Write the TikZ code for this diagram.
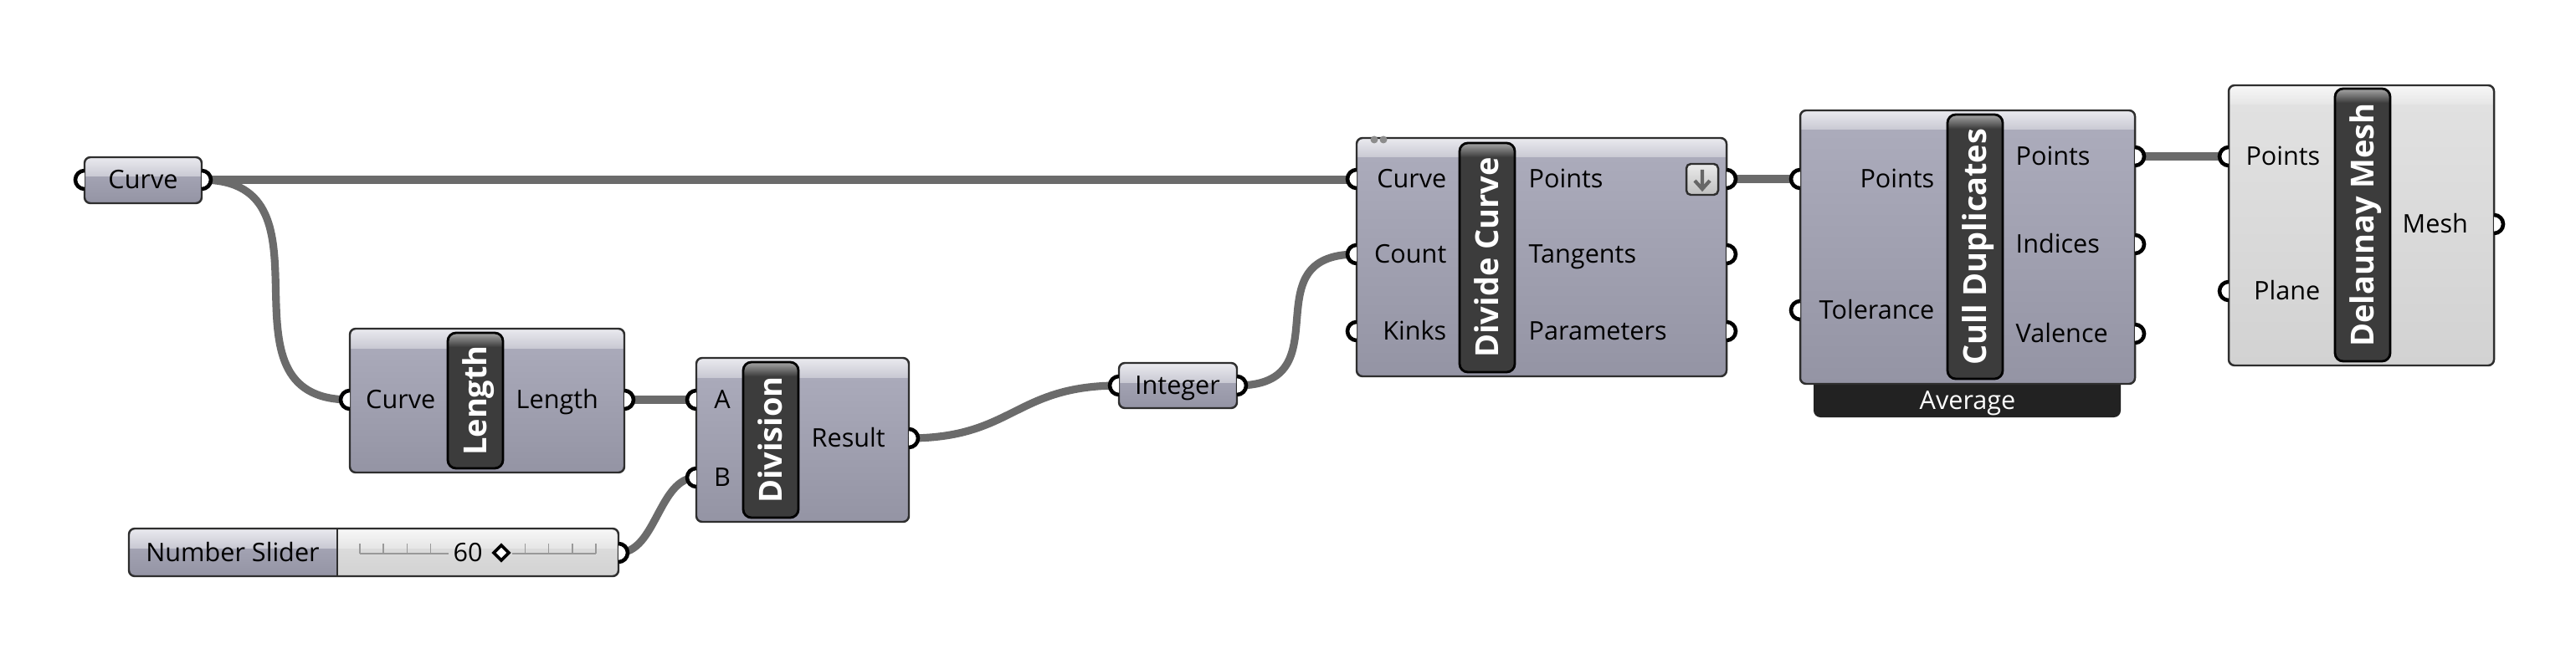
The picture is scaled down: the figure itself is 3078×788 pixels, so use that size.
\documentclass[tikz,border=0pt]{standalone}
\usepackage{fontspec}
\setmainfont{Open Sans}
\usetikzlibrary{calc}
\definecolor{wiregray}{HTML}{6B6B6B}
\definecolor{boxedge}{HTML}{2E2E2E}
\definecolor{ghbodytop}{HTML}{ADADBD}
\definecolor{ghbodybot}{HTML}{9494A4}
\definecolor{ghbandtop}{HTML}{EAEAEF}
\definecolor{ghbandbot}{HTML}{C9C9D3}
\definecolor{ltbodytop}{HTML}{E2E2E2}
\definecolor{ltbodybot}{HTML}{D2D2D2}
\definecolor{ltbandtop}{HTML}{F7F7F7}
\definecolor{ltbandbot}{HTML}{E6E6E6}
\definecolor{barfill}{HTML}{3C3C3C}
\definecolor{avgfill}{HTML}{222222}
\tikzset{
    wire/.style={draw=wiregray, line width=2.6pt},
    nub/.style={draw=black, line width=1.3pt, fill=white},
    boxline/.style={draw=boxedge, line width=0.7pt},
    ghbody/.style={top color=ghbodytop, bottom color=ghbodybot},
    ghband/.style={top color=ghbandtop, bottom color=ghbandbot},
    ltbody/.style={top color=ltbodytop, bottom color=ltbodybot},
    ltband/.style={top color=ltbandtop, bottom color=ltbandbot},
    portlabel/.style={font=\fontsize{8.7}{10}\selectfont, text=black, inner sep=0pt, text height=6.3pt, text depth=0pt},
    barlabel/.style={font=\fontsize{10.8}{12}\selectfont\bfseries, text=white, rotate=90, inner sep=0pt, text height=7.8pt, text depth=0pt}
}
\newcommand{\drawcomponent}[5]{
    \begin{scope}[shift={(#2)}]
        \begin{scope}
            \clip [rounded corners=2pt] (0,0) rectangle (#3,#4);
            \shade [#5body] (0,0) rectangle (#3,#4);
            \shade [#5band] (0,0) rectangle (#3,23);
        \end{scope}
        \draw [boxline, rounded corners=2pt] (0,0) rectangle (#3,#4);
        \coordinate (#1) at ({#3/2},{#4/2});
    \end{scope}
}
\newcommand{\drawlabelbar}[4]{
    \begin{scope}[shift={(#2)}]
        \begin{scope}
            \clip [rounded corners=2.8pt] (-33,{-#3/2}) rectangle (33,{#3/2});
            \fill [barfill] (-33,{-#3/2}) rectangle (33,{#3/2});
            \shade [top color=black!35, bottom color=barfill] (-33,{-#3/2}) rectangle (33,{-#3/2+17});
        \end{scope}
        \draw [draw=black, line width=0.8pt, rounded corners=2.8pt] (-33,{-#3/2}) rectangle (33,{#3/2});
        \node [barlabel] (#1) at (0,0) {#4};
    \end{scope}
}
\newcommand{\drawinput}[2]{
    \coordinate (#1) at (#2);
    \draw [nub] ($(#1)+(0,-11)$) arc[start angle=270, end angle=90, radius=11];
}
\newcommand{\drawoutput}[2]{
    \coordinate (#1) at (#2);
    \draw [nub] ($(#1)+(0,-11)$) arc[start angle=-90, end angle=90, radius=11];
}

\begin{document}
\begin{tikzpicture}[x=0.01cm, y=-0.01cm]
    \useasboundingbox [fill=white] (0,0) rectangle (3078,788);

    % parameters
    \drawcomponent{curve}{101,188}{140}{55}{gh};
    \node [portlabel] (curve-lbl) at (171,214) {Curve};
    \drawcomponent{int}{1337,434}{141}{54}{gh};
    \node [portlabel] (int-lbl) at (1407,460) {Integer};

    % number slider
    \begin{scope}
        \clip [rounded corners=2pt] (154,632) rectangle (739,689);
        \shade [ghbody] (154,632) rectangle (403,689);
        \shade [ghband] (154,632) rectangle (403,655);
        \shade [ltbody] (403,632) rectangle (739,689);
        \shade [ltband] (403,632) rectangle (739,655);
    \end{scope}
    \draw [boxline, rounded corners=2pt] (154,632) rectangle (739,689);
    \draw [boxline] (403,632) -- (403,689);
    \node [portlabel] (slider-lbl) at (278,660) {Number Slider};
    \draw [black!40, line width=0.5pt] (430,662) -- (536,662) (612,662) -- (712,662);
    \foreach \i in {0,1,2,3,7,8,9,10} {
        \draw [black!40, line width=0.5pt] ({430+28.2*\i},662) -- ({430+28.2*\i},650);
    }
    \node [portlabel] (slider-val) at (559,660) {60};
    \draw [draw=black, line width=1.1pt, fill=white] (590,661) -- (599,652) -- (608,661) -- (599,670) -- cycle;

    % Length
    \drawcomponent{len}{418,393}{328}{172}{gh};
    \drawlabelbar{len-bar}{568,479}{162}{Length};
    \node [portlabel, anchor=east] (len-in-lbl) at (521,477) {Curve};
    \node [portlabel, anchor=west] (len-out-lbl) at (616,477) {Length};

    % Division
    \drawcomponent{div}{832,428}{254}{196}{gh};
    \drawlabelbar{div-bar}{921,526}{186}{Division};
    \node [portlabel] (div-a-lbl) at (863,477) {A};
    \node [portlabel] (div-b-lbl) at (863,570) {B};
    \node [portlabel, anchor=west] (div-res-lbl) at (969,523) {Result};

    % Divide Curve
    \drawcomponent{dc}{1621,165}{442}{285}{gh};
    \fill [black!45] (1642,167) circle (4.5) (1653,167) circle (4.5);
    \drawlabelbar{dc-bar}{1777,308}{274}{Divide Curve};
    \node [portlabel, anchor=east] (dc-in1-lbl) at (1729,213) {Curve};
    \node [portlabel, anchor=east] (dc-in2-lbl) at (1729,303) {Count};
    \node [portlabel, anchor=east] (dc-in3-lbl) at (1729,395) {Kinks};
    \node [portlabel, anchor=west] (dc-out1-lbl) at (1826,213) {Points};
    \node [portlabel, anchor=west] (dc-out2-lbl) at (1826,303) {Tangents};
    \node [portlabel, anchor=west] (dc-out3-lbl) at (1826,395) {Parameters};
    \shade [top color=black!8, bottom color=black!25, draw=boxedge, line width=0.7pt, rounded corners=1.5pt] (2015,196) rectangle (2053,233);
    \draw [black!60, line width=1.2pt] (2034,203) -- (2034,226) (2025,216) -- (2034,226) -- (2043,216);

    % Cull Duplicates
    \fill [avgfill, rounded corners=2.3pt] (2167,440) rectangle (2534,499);
    \node [portlabel, text=white] (avg-lbl) at (2351,478) {Average};
    \drawcomponent{cd}{2151,132}{400}{327}{gh};
    \drawlabelbar{cd-bar}{2360,295}{316}{Cull Duplicates};
    \node [portlabel, anchor=east] (cd-in1-lbl) at (2312,213) {Points};
    \node [portlabel, anchor=east] (cd-in2-lbl) at (2312,370) {Tolerance};
    \node [portlabel, anchor=west] (cd-out1-lbl) at (2408,186) {Points};
    \node [portlabel, anchor=west] (cd-out2-lbl) at (2408,291) {Indices};
    \node [portlabel, anchor=west] (cd-out3-lbl) at (2408,398) {Valence};

    % Delaunay Mesh
    \drawcomponent{dm}{2663,102}{317}{335}{lt};
    \drawlabelbar{dm-bar}{2823,269}{326}{Delaunay Mesh};
    \node [portlabel, anchor=east] (dm-in1-lbl) at (2773,186) {Points};
    \node [portlabel, anchor=east] (dm-in2-lbl) at (2773,347) {Plane};
    \node [portlabel, anchor=west] (dm-out-lbl) at (2870,267) {Mesh};

    % ports
    \coordinate (curve-out) at (241,215);
    \coordinate (len-in) at (418,478);
    \coordinate (len-out) at (746,478);
    \coordinate (div-a) at (832,478);
    \coordinate (div-b) at (832,571);
    \coordinate (div-res) at (1086,524);
    \coordinate (slider-out) at (739,661);
    \coordinate (int-in) at (1337,461);
    \coordinate (int-out) at (1478,461);
    \coordinate (dc-in1) at (1621,215);
    \coordinate (dc-in2) at (1621,304);
    \coordinate (dc-out1) at (2063,214);
    \coordinate (cd-in1) at (2151,214);
    \coordinate (cd-out1) at (2551,187);
    \coordinate (dm-in1) at (2663,187);

    % wires
    \draw [wire] (curve-out) -- (dc-in1);
    \draw [wire] (curve-out) .. controls +(171,0) and +(-171,0) .. (len-in);
    \draw [wire] (len-out) -- (div-a);
    \draw [wire] (slider-out) .. controls +(45,0) and +(-45,0) .. (div-b);
    \draw [wire] (div-res) .. controls +(125,0) and +(-125,0) .. (int-in);
    \draw [wire] (int-out) .. controls +(130,0) and +(-130,0) .. (dc-in2);
    \draw [wire] (dc-out1) -- (cd-in1);
    \draw [wire] (cd-out1) -- (dm-in1);

    % nubs
    \drawinput{curve-nin}{101,215};
    \drawoutput{curve-nout}{241,215};
    \drawinput{int-nin}{1337,461};
    \drawoutput{int-nout}{1478,461};
    \drawoutput{slider-nout}{739,661};
    \drawinput{len-nin}{418,478};
    \drawoutput{len-nout}{746,478};
    \drawinput{div-na}{832,478};
    \drawinput{div-nb}{832,571};
    \drawoutput{div-nres}{1086,524};
    \drawinput{dc-nin1}{1621,214};
    \drawinput{dc-nin2}{1621,304};
    \drawinput{dc-nin3}{1621,396};
    \drawoutput{dc-nout1}{2063,214};
    \drawoutput{dc-nout2}{2063,304};
    \drawoutput{dc-nout3}{2063,396};
    \drawinput{cd-nin1}{2151,214};
    \drawinput{cd-nin2}{2151,371};
    \drawoutput{cd-nout1}{2551,187};
    \drawoutput{cd-nout2}{2551,292};
    \drawoutput{cd-nout3}{2551,399};
    \drawinput{dm-nin1}{2663,187};
    \drawinput{dm-nin2}{2663,348};
    \drawoutput{dm-nout}{2980,268};
\end{tikzpicture}
\end{document}
